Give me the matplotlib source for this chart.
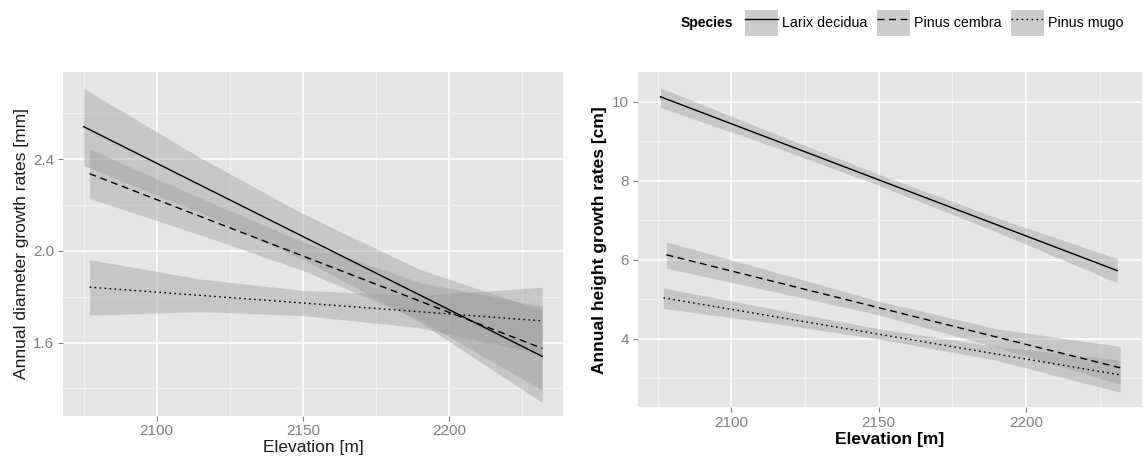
import numpy as np
import matplotlib.pyplot as plt
from matplotlib.lines import Line2D
from matplotlib.patches import Patch
from matplotlib.legend_handler import HandlerTuple

plt.rcParams['font.family'] = ['Liberation Sans', 'DejaVu Sans']

species = ['Larix decidua', 'Pinus cembra', 'Pinus mugo']
styles = ['-', (0, (5, 3.3)), (0, (1.2, 2.4))]

# --- diameter growth [mm], linear fits (start / end) ---
dia_x = [[2075, 2232], [2077, 2232], [2077, 2232]]
dia_fit = [[2.542, 1.540], [2.337, 1.575], [1.842, 1.695]]
# confidence ribbons, read at a few elevations
dia_bx = [[2075, 2115, 2150, 2190, 2232],
          [2077, 2115, 2150, 2190, 2232],
          [2077, 2115, 2150, 2190, 2232]]
dia_lo = [[2.372, 2.166, 1.963, 1.690, 1.338],
          [2.229, 2.070, 1.915, 1.700, 1.392],
          [1.720, 1.735, 1.718, 1.665, 1.548]]
dia_hi = [[2.709, 2.406, 2.163, 1.920, 1.740],
          [2.445, 2.230, 2.040, 1.862, 1.758],
          [1.962, 1.877, 1.828, 1.805, 1.842]]

# --- height growth [cm] ---
hgt_x = [[2076, 2231], [2078, 2232], [2077, 2232]]
hgt_fit = [[10.12, 5.72], [6.12, 3.26], [5.03, 3.08]]
hgt_bx = [[2076, 2115, 2150, 2190, 2231],
          [2078, 2115, 2150, 2190, 2232],
          [2077, 2115, 2150, 2190, 2232]]
hgt_lo = [[9.85, 8.84, 7.88, 6.70, 5.41],
          [5.78, 5.18, 4.60, 3.78, 2.84],
          [4.76, 4.38, 3.99, 3.45, 2.64]]
hgt_hi = [[10.35, 9.18, 8.16, 7.06, 6.02],
          [6.45, 5.68, 4.95, 4.25, 3.80],
          [5.28, 4.74, 4.25, 3.80, 3.46]]

x_major = [2100, 2150, 2200]
x_minor = [2075, 2125, 2175, 2225]
dia_major = [1.6, 2.0, 2.4]
dia_minor = [1.4, 1.8, 2.2, 2.6]
hgt_major = [4, 6, 8, 10]
hgt_minor = [3, 5, 7, 9]

W, H = 1145, 459
fig = plt.figure(figsize=(W / 100, H / 100), dpi=100)


def make_ax(l, t, r, b):
    ax = fig.add_axes([l / W, 1 - b / H, (r - l) / W, (b - t) / H])
    ax.set_facecolor('#E5E5E5')
    for s in ax.spines.values():
        s.set_visible(False)
    ax.set_axisbelow(True)
    ax.tick_params(which='major', length=3.8, width=0.8, color='#7F7F7F',
                   labelcolor='#7F7F7F', labelsize=11, pad=2.4)
    ax.tick_params(which='minor', length=0)
    ax.grid(which='major', color='white', lw=1.2)
    ax.grid(which='minor', color='#F2F2F2', lw=0.7)
    return ax


def draw(ax, xs, fits, bxs, los, his):
    for i in range(3):
        ax.fill_between(bxs[i], los[i], his[i], color='#999999', alpha=0.4, lw=0)
    for i in range(3):
        ax.plot(xs[i], fits[i], color='black', lw=1.0, ls=styles[i])


# left panel
ax1 = make_ax(62.7, 71.7, 563.3, 415.5)
draw(ax1, dia_x, dia_fit, dia_bx, dia_lo, dia_hi)
ax1.set_xlim(2067.8, 2239.2)
ax1.set_ylim(1.282, 2.782)
ax1.set_xticks(x_major)
ax1.set_xticks(x_minor, minor=True)
ax1.set_yticks(dia_major)
ax1.set_yticks(dia_minor, minor=True)
ax1.set_yticklabels(['1.6', '2.0', '2.4'])
ax1.set_xlabel('Elevation [m]', fontsize=12.5, color='#1a1a1a', va='center')
ax1.xaxis.set_label_coords(0.5, -0.0945)
ax1.set_ylabel('Annual diameter growth rates [mm]', fontsize=12.5,
               color='#1a1a1a', va='center')
ax1.yaxis.set_label_coords(-0.0833, 0.5)

# right panel
ax2 = make_ax(637.5, 72.3, 1141.7, 407.3)
draw(ax2, hgt_x, hgt_fit, hgt_bx, hgt_lo, hgt_hi)
ax2.set_xlim(2068.2, 2239.3)
ax2.set_ylim(2.26, 10.74)
ax2.set_xticks(x_major)
ax2.set_xticks(x_minor, minor=True)
ax2.set_yticks(hgt_major)
ax2.set_yticks(hgt_minor, minor=True)
ax2.set_xlabel('Elevation [m]', fontsize=12.5, fontweight='bold', va='center')
ax2.xaxis.set_label_coords(0.5, -0.0975)
ax2.set_ylabel('Annual height growth rates [cm]', fontsize=12.5,
               fontweight='bold', va='center')
ax2.yaxis.set_label_coords(-0.0744, 0.5)

# legend
handles = [(Patch(facecolor='#CCCCCC', edgecolor='none'),
            Line2D([], [], color='black', lw=1.0, ls=styles[i]))
           for i in range(3)]
fig.legend(handles, species, loc='center left',
           bbox_to_anchor=(745 / W, 1 - 23 / H), ncol=3, frameon=False,
           handler_map={tuple: HandlerTuple(ndivide=1, pad=0)},
           fontsize=10.3, handlelength=2.3, handleheight=2.4,
           handletextpad=0.26, columnspacing=0.7, borderpad=0,
           borderaxespad=0)
fig.text(733 / W, 1 - 23 / H, 'Species', fontsize=10, fontweight='bold',
         ha='right', va='center')

fig.savefig('out.png', dpi=100)
